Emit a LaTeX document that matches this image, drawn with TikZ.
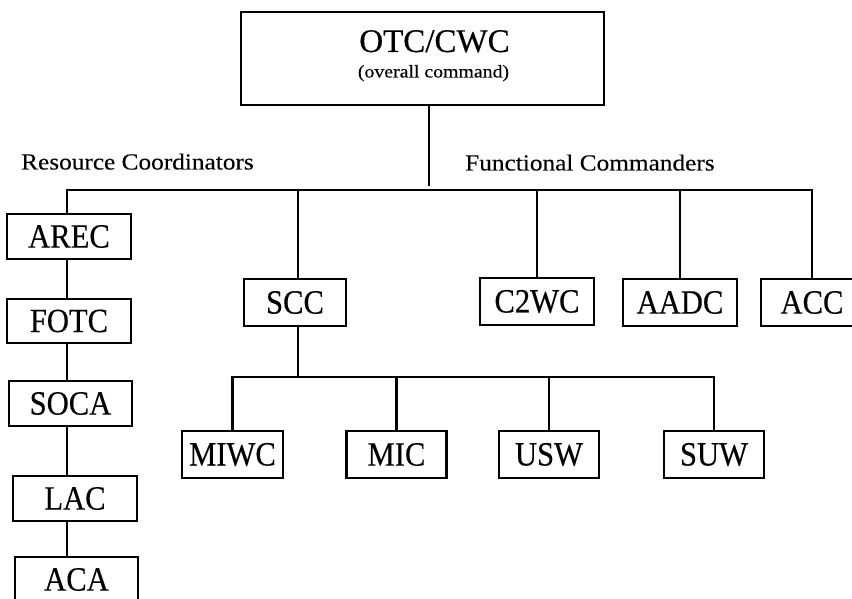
\documentclass[tikz,border=0pt]{standalone}
\usepackage{fontspec}
\setmainfont{Liberation Serif}
% condensed face for the unit boxes, widened face for the captions
\newfontfamily\unitfont[FakeStretch=0.9,FakeBold=0.35]{Liberation Serif}
\newfontfamily\titlefont[FakeBold=0.35]{Liberation Serif}
\newfontfamily\capfont[FakeStretch=1.1,FakeBold=0.2]{Liberation Serif}
\begin{document}
\begin{tikzpicture}[x=1pt,y=-1pt,
  unit/.style={draw, line width=2.6pt, inner sep=0pt,
    font=\unitfont\fontsize{34}{34}\selectfont},
  link/.style={line width=2.6pt},
  grouplabel/.style={inner sep=0pt, anchor=base west,
    font=\capfont\fontsize{23}{23}\selectfont}]
\useasboundingbox (0,0) rectangle (852,599);

% overall command
\node[draw, line width=2.9pt, minimum width=363pt, minimum height=93pt, inner sep=0pt] (top) at (422.5,58.5) {};
\node[inner sep=0pt, anchor=base, font=\titlefont\fontsize{33}{33}\selectfont] (title) at (434.5,52) {OTC/CWC};
\node[inner sep=0pt, anchor=base, font=\capfont\fontsize{18}{18}\selectfont] (subtitle) at (433.5,77.5) {(overall command)};

% group captions
\node[grouplabel] (rescap) at (21,169.5) {Resource Coordinators};
\node[grouplabel] (funcap) at (465,170.5) {Functional Commanders};

% resource coordinators
\node[unit, minimum width=124pt, minimum height=45pt] (arec) at (69,236.5) {AREC};
\node[unit, minimum width=124pt, minimum height=44pt] (fotc) at (69,321) {FOTC};
\node[unit, minimum width=123pt, minimum height=45pt] (soca) at (70.5,403.5) {SOCA};
\node[unit, minimum width=124pt, minimum height=45pt] (lac) at (75,498.5) {LAC};
\node[unit, minimum width=123pt, minimum height=45pt] (aca) at (76.5,579.5) {ACA};

% functional commanders
\node[unit, minimum width=102pt, minimum height=47pt] (scc) at (295,302.5) {SCC};
\node[unit, minimum width=114pt, minimum height=47pt] (c2wc) at (537,301.5) {C2WC};
\node[unit, minimum width=114pt, minimum height=47pt] (aadc) at (680,302.5) {AADC};
\node[unit, minimum width=102pt, minimum height=47pt] (acc) at (812,302.5) {ACC};

% sea combat commander's subordinates
\node[unit, minimum width=101pt, minimum height=47pt] (miwc) at (232.5,454.5) {MIWC};
\node[unit, minimum width=100pt, minimum height=47pt] (mic) at (396.5,454.5) {MIC};
\node[unit, minimum width=100pt, minimum height=47pt] (usw) at (549,454.5) {USW};
\node[unit, minimum width=100pt, minimum height=47pt] (suw) at (714,454.5) {SUW};

% connector lanes
\coordinate (hub) at (429,186);
\coordinate (busw) at (67,190);
\coordinate (spine) at (67,0);
\coordinate (sccx) at (298,0);
\coordinate (subbus) at (0,377);

% top-level tree
\draw[link] (top.south -| hub) -- (hub);
\draw[link] (arec.north -| busw) -- (busw) -- (acc.north |- busw) -- (acc.north);
\draw[link] (sccx |- busw) -- (scc.north -| sccx);
\draw[link] (c2wc.north |- busw) -- (c2wc.north);
\draw[link] (aadc.north |- busw) -- (aadc.north);

% resource coordinator chain
\draw[link] (arec.south -| spine) -- (fotc.north -| spine);
\draw[link] (fotc.south -| spine) -- (soca.north -| spine);
\draw[link] (soca.south -| spine) -- (lac.north -| spine);
\draw[link] (lac.south -| spine) -- (aca.north -| spine);

% SCC subtree
\draw[link] (scc.south -| sccx) -- (sccx |- subbus);
\draw[link] (miwc.north) -- (miwc.north |- subbus) -- (suw.north |- subbus) -- (suw.north);
\draw[link] (mic.north |- subbus) -- (mic.north);
\draw[link] (usw.north |- subbus) -- (usw.north);
\end{tikzpicture}
\end{document}
